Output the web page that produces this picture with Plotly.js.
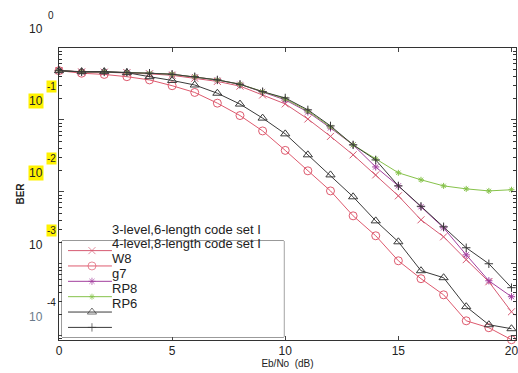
<!DOCTYPE html>
<html>
<head>
<meta charset="utf-8">
<script src="https://cdn.plot.ly/plotly-3.0.1.min.js"></script>
<style>html,body{margin:0;padding:0;background:#fff;}#chart{width:518px;height:373px;}</style>
</head>
<body>
<div id="chart"></div>
<script>
// Eb/No in dB
var ebno = [0,1,2,3,4,5,6,7,8,9,10,11,12,13,14,15,16,17,18,19,20];

// BER values
var ber3level = [0.484,0.465,0.461,0.452,0.437,0.417,0.380,0.343,0.295,0.222,0.167,0.103,0.059,0.0327,0.0172,0.0088,0.00408,0.00237,0.00114,0.000562,0.000215];
var ber4level = [0.484,0.446,0.429,0.399,0.360,0.299,0.241,0.171,0.115,0.0703,0.0377,0.0196,0.0103,0.00464,0.00245,0.0011,0.00062,0.00037,0.000161,0.000129,0.0000879];
var berW8     = [0.484,0.465,0.465,0.459,0.446,0.432,0.399,0.360,0.313,0.247,0.190,0.129,0.0774,0.045,0.0222,0.0121,0.0062,0.00316,0.00133,0.00058,0.000348];
var berG7     = [0.484,0.465,0.465,0.459,0.446,0.432,0.399,0.360,0.313,0.247,0.196,0.133,0.080,0.045,0.0287,0.0184,0.0147,0.0121,0.0110,0.0103,0.0107];
var berRP8    = [0.484,0.469,0.469,0.454,0.399,0.354,0.306,0.235,0.166,0.106,0.064,0.0327,0.0172,0.00853,0.00395,0.00202,0.0008,0.00064,0.000253,0.000142,0.000125];
var berRP6    = [0.484,0.465,0.465,0.459,0.446,0.432,0.399,0.360,0.313,0.247,0.202,0.138,0.0826,0.045,0.0278,0.0121,0.0063,0.00327,0.00167,0.001,0.000465];

var seriesData   = [ber3level, ber4level, berW8, berG7, berRP8, berRP6];
var legendLabels = ["3-level,6-length code set I", "4-level,8-length code set I", "W8", "g7", "RP8", "RP6"];
var seriesColors = ["#d65a72", "#de5a6e", "#a23f9e", "#86c24a", "#3a3a3a", "#3a3a3a"];
var seriesSymbols = ["x-thin-open", "circle-open", "asterisk-open", "asterisk-open", "triangle-up-open", "cross-thin-open"];
var seriesSizes = [7, 8, 6, 5, 8, 6];

// y tick labels (exponents of 10)
var yTickExps = [0, -1, -2, -3, -4];
var xTickVals = [0, 5, 10, 15, 20];

var font = "Liberation Sans, Arial, sans-serif";
var traces = [];
for (var i = 0; i < seriesData.length; i++) {
  traces.push({
    x: ebno, y: seriesData[i], type: "scatter", mode: "lines+markers",
    line: {color: seriesColors[i], width: 1},
    marker: {symbol: seriesSymbols[i], size: seriesSizes[i], color: seriesColors[i], line: {color: seriesColors[i], width: 1}},
    showlegend: false, cliponaxis: false, hoverinfo: "none"
  });
}

// custom legend drawn on an auxiliary axis (rows follow the series order)
var rowTop = 0.9, rowStep = 0.16;
var annotations = [];
for (var j = 0; j < seriesData.length; j++) {
  var ry = rowTop - rowStep * j;
  traces.push({
    x: [0.027, 0.135, 0.225], y: [ry, ry, ry], xaxis: "x2", yaxis: "y2",
    type: "scatter", mode: "lines+markers", showlegend: false, hoverinfo: "none", cliponaxis: false,
    line: {color: seriesColors[j], width: 1},
    marker: {symbol: seriesSymbols[j], size: [0, seriesSizes[j], 0], color: seriesColors[j], line: {color: seriesColors[j], width: 1}}
  });
  annotations.push({
    xref: "x2 domain", yref: "y2 domain", x: 0.215, y: 1.125 - 0.156 * j, text: legendLabels[j],
    showarrow: false, xanchor: "left", yanchor: "middle",
    font: {family: font, size: 13, color: "#222"}
  });
}

// y tick labels as 10 with raised exponent
for (var k = 0; k < yTickExps.length; k++) {
  var e = yTickExps[k];
  var hl = (e === -1 || e === -2);
  annotations.push({
    xref: "paper", yref: "y", x: -0.0503, y: e, yshift: 19, text: "10",
    showarrow: false, xanchor: "center", yanchor: "middle",
    bgcolor: hl ? "#fff200" : "rgba(0,0,0,0)", borderpad: 0,
    font: {family: font, size: 12, color: e === -4 ? "#6a7a8a" : "#222"}
  });
  annotations.push({
    xref: "paper", yref: "y", x: -0.0175, y: e, yshift: 33, text: e === 0 ? "0" : "-" + Math.abs(e),
    showarrow: false, xanchor: "center", yanchor: "middle",
    bgcolor: (e <= -1 && e >= -3) ? "#fff200" : "rgba(0,0,0,0)", borderpad: 0,
    font: {family: font, size: 10, color: "#222"}
  });
}

var layout = {
  width: 518, height: 373,
  margin: {l: 59, r: 2, t: 48, b: 33},
  paper_bgcolor: "#fff", plot_bgcolor: "#fff",
  font: {family: font, size: 12, color: "#222"},
  xaxis: {
    range: [0, 20.2], tickvals: xTickVals, ticks: "inside", ticklen: 4,
    ticklabeloverflow: "allow",
    showline: true, linecolor: "#333", linewidth: 1, mirror: "ticks", showgrid: false, zeroline: false,
    tickfont: {family: font, size: 12, color: "#222"},
    title: {text: "Eb/No  (dB)", font: {family: font, size: 10, color: "#222"}, standoff: 2},
    automargin: false
  },
  yaxis: {
    type: "log", range: [-4.06, 0], dtick: 1, ticks: "inside", ticklen: 5,
    showticklabels: false,
    minor: {dtick: "D1", ticks: "inside", ticklen: 3, tickcolor: "#333", showgrid: false},
    showline: true, linecolor: "#333", linewidth: 1, mirror: "ticks", showgrid: false, zeroline: false,
    title: {text: "<b>BER</b>", font: {family: font, size: 10, color: "#222"}, standoff: 31},
    automargin: false
  },
  xaxis2: {domain: [0.0066, 0.492], range: [0, 1], visible: false, fixedrange: true, anchor: "y2"},
  yaxis2: {domain: [0.0103, 0.339], range: [0, 1], visible: false, fixedrange: true, anchor: "x2"},
  shapes: [{type: "rect", xref: "x2 domain", yref: "y2 domain", x0: 0, x1: 1, y0: 0, y1: 1,
            line: {color: "#333", width: 1}, fillcolor: "rgba(255,255,255,1)", layer: "below"}],
  annotations: annotations,
  showlegend: false
};

Plotly.newPlot("chart", traces, layout, {staticPlot: true, displayModeBar: false});
</script>
</body>
</html>
